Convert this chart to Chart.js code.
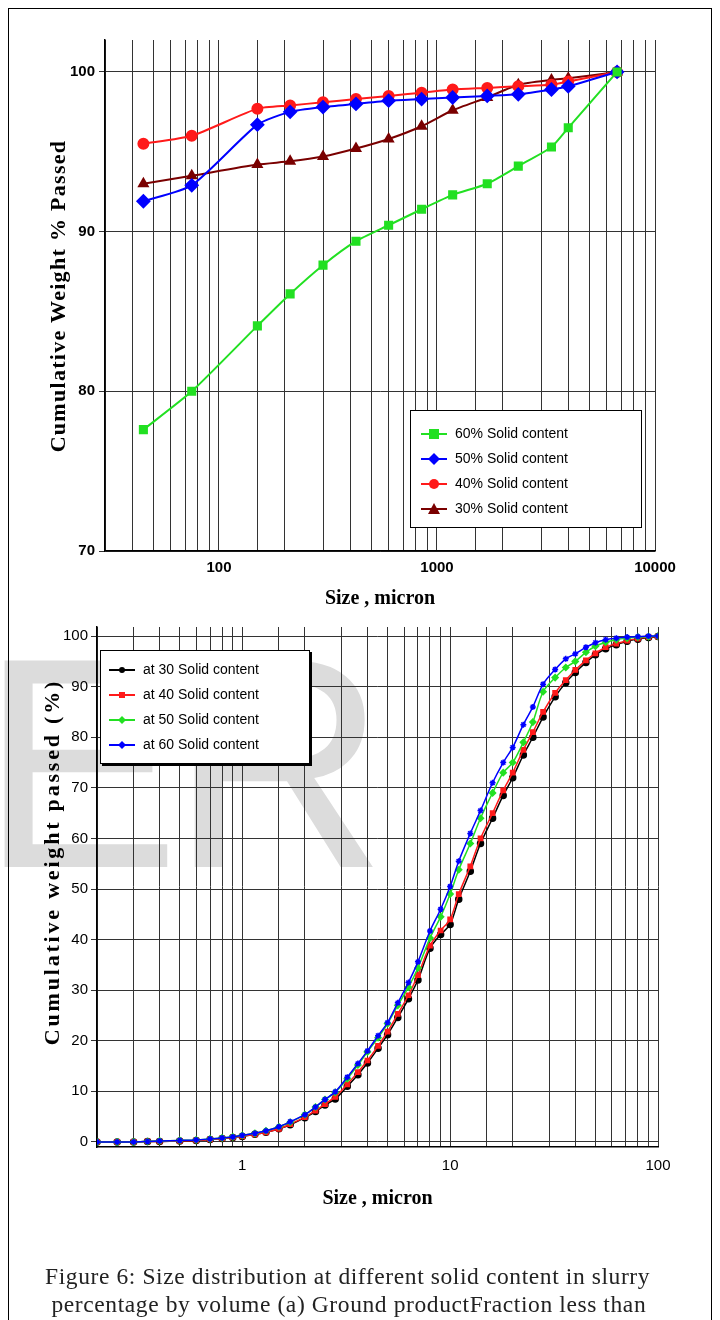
<!DOCTYPE html>
<html><head><meta charset="utf-8">
<script src="https://cdn.jsdelivr.net/npm/chart.js@4.4.1/dist/chart.umd.min.js"></script>
<style>
body{margin:0;background:#fff;width:720px;height:1320px;position:relative;overflow:hidden;font-family:"Liberation Sans",Arial,sans-serif}
#frame{position:absolute;left:8px;top:8px;width:702px;height:1340px;border:1.5px solid #000;overflow:hidden}
canvas{position:absolute;left:0}
#wm{position:absolute;left:-20px;top:590px;font-size:300px;color:#dcdcdc;font-family:"Liberation Sans",Arial,sans-serif;letter-spacing:-10px}
.leg{position:absolute;background:#fff;border:1.5px solid #000;font-size:14px;line-height:25px}
.leg div{display:flex;align-items:center;white-space:nowrap}
.leg svg{margin-right:8px}
.ytitle{position:absolute;transform:translate(-50%,-50%) rotate(-90deg);white-space:nowrap;font-family:"Liberation Serif","DejaVu Serif",serif;font-weight:bold;font-size:22px;color:#000}
#cap{position:absolute;left:45px;top:1262px;font-family:"Liberation Serif","DejaVu Serif",serif;font-size:23.5px;letter-spacing:0.6px;line-height:28px;white-space:nowrap;color:#222}
</style></head><body>
<div id="wm">ER</div>
<canvas id="c1" width="720" height="615" style="top:0"></canvas>
<canvas id="c2" width="720" height="600" style="top:615px"></canvas>
<div id="frame"></div>
<div class="ytitle" style="left:58px;top:296px;letter-spacing:1.3px">Cumulative Weight % Passed</div>
<div class="ytitle" style="left:52px;top:862px;letter-spacing:2.8px">Cumulative weight passed (%)</div>
<div class="leg" id="leg1" style="left:410px;top:410px;width:212px;padding:10px 8px 6px 10px;font-size:14px"></div>
<div class="leg" id="leg2" style="left:100px;top:650px;width:196px;padding:6px 4px 6px 8px;box-shadow:2px 2px 0 #000"></div>
<div id="cap">Figure 6: Size distribution at different solid content in slurry<br>&nbsp;percentage by volume (a) Ground productFraction less than</div>
<script>
// ---- top chart data ----
const sizesA = [45, 75, 150, 212, 300, 425, 600, 850, 1180, 1700, 2360, 3350, 4000, 6700];
const s60A = [77.6, 80.0, 84.1, 86.1, 87.9, 89.4, 90.4, 91.4, 92.3, 93.0, 94.1, 95.3, 96.5, 100];
const s50A = [91.9, 92.9, 96.7, 97.5, 97.8, 98.0, 98.2, 98.3, 98.4, 98.5, 98.6, 98.9, 99.1, 100];
const s40A = [95.5, 96.0, 97.7, 97.9, 98.1, 98.3, 98.5, 98.7, 98.9, 99.0, 99.1, 99.2, 99.4, 100];
const s30A = [93.0, 93.5, 94.2, 94.4, 94.7, 95.2, 95.8, 96.6, 97.6, 98.4, 99.2, 99.5, 99.6, 100];
const labelsA = ['60% Solid content','50% Solid content','40% Solid content','30% Solid content'];
const yTicksA = [70, 80, 90, 100];
// ---- bottom chart data ----
const sizesB = [0.2,0.25,0.3,0.35,0.4,0.5,0.6,0.7,0.8,0.9,1,1.15,1.3,1.5,1.7,2,2.25,2.5,2.8,3.2,3.6,4,4.5,5,5.6,6.3,7,8,9,10,11,12.5,14,16,18,20,22.5,25,28,32,36,40,45,50,56,63,71,80,90,100];
const b30 = [0,0,0,0.1,0.1,0.2,0.3,0.5,0.7,0.9,1.1,1.5,1.9,2.6,3.4,4.8,6.0,7.3,8.5,11,13.3,15.6,18.5,21.2,24.6,28.3,32,38.3,41,43,48,53.5,59,64,68.5,72,76.5,80,84,88,90.8,92.8,94.8,96.3,97.5,98.3,99,99.4,99.7,99.9];
const b40 = [0,0,0,0.1,0.1,0.2,0.3,0.5,0.7,0.9,1.1,1.5,1.9,2.6,3.5,4.9,6.2,7.5,8.9,11.4,13.8,16.1,19,21.8,25.3,29,33,38.8,41.8,44,49,54.5,60,65,69.5,73,77.5,81,85,88.8,91.3,93.3,95.2,96.6,97.8,98.5,99.1,99.5,99.8,99.9];
const b50 = [0,0,0,0.1,0.2,0.3,0.4,0.6,0.8,1.0,1.3,1.7,2.2,3.0,3.9,5.4,6.9,8.4,9.8,12.5,15.2,17.8,20.6,23.4,27,30.6,34.4,40.3,44.5,49,53.8,59,64,69,73,75,79,83,89,91.8,93.8,95,96.8,98,98.8,99.3,99.6,99.8,99.9,100];
const b60 = [0,0,0,0.1,0.2,0.3,0.4,0.6,0.8,1.0,1.3,1.7,2.2,3.0,4.0,5.4,6.9,8.4,9.9,12.8,15.5,18,21,23.6,27.5,31.5,35.6,41.7,46,50.5,55.5,61,65.5,71,75,78,82.5,86,90.5,93.4,95.5,96.5,97.8,98.7,99.3,99.6,99.8,99.9,100,100];
const labelsB = ['at 30 Solid content','at 40 Solid content','at 50 Solid content','at 60 Solid content'];
const yTicksB = [0,10,20,30,40,50,60,70,80,90,100];

const isDecade = v => Math.abs(Math.log10(v) - Math.round(Math.log10(v))) < 1e-9;
const pts = (xs, ys) => xs.map((x, i) => ({x, y: ys[i]}));

// ---- chart A ----
const colA = ['#22e022','#0000ff','#ff1a1a','#7a0000'];
const styA = ['rect','rectRot','circle','triangle'];
const dataA = [s60A, s50A, s40A, s30A];
new Chart(document.getElementById('c1'), {
  type: 'line',
  data: {datasets: dataA.map((d, i) => ({label: labelsA[i], data: pts(sizesA, d), borderColor: colA[i], backgroundColor: colA[i],
    pointStyle: styA[i], pointRadius: styA[i]==='rectRot'?6:5, borderWidth: 2, tension: 0.2}))},
  options: {
    responsive: false, animation: false,
    layout: {padding: {top: 40, right: 65, left: 0, bottom: 0}},
    plugins: {legend: {display: false}, tooltip: {enabled: false}},
    scales: {
      x: {type: 'logarithmic', min: 30, max: 10000,
        grid: {color: '#333', lineWidth: 1, drawTicks: false},
        border: {color: '#000', width: 1.5},
        ticks: {autoSkip: false, color: '#000', font: {size: 15, weight: 'bold', family: 'Liberation Sans'}, padding: 8, maxRotation: 0,
          callback: v => isDecade(v) ? String(v) : ''},
        title: {display: true, text: 'Size , micron', color: '#000', font: {size: 20, weight: 'bold', family: 'Liberation Serif'}, padding: {top: 0}},
        afterFit: s => { s.height = 64; }},
      y: {min: 70, max: 102,
        afterBuildTicks: s => { s.ticks = yTicksA.map(v => ({value: v})); },
        grid: {color: '#333', lineWidth: 1, tickLength: 6},
        border: {color: '#000', width: 1.5},
        ticks: {color: '#000', font: {size: 15, weight: 'bold', family: 'Liberation Sans'}, padding: 4},
        afterFit: s => { s.width = 105; }}
    }
  }
});

// ---- chart B ----
const colB = ['#000000','#ff1a1a','#22e022','#0000ff'];
const styB = ['circle','rect','rectRot','star'];
const dataB = [b30, b40, b50, b60];
new Chart(document.getElementById('c2'), {
  type: 'line',
  data: {datasets: dataB.map((d, i) => ({label: labelsB[i], data: pts(sizesB, d), borderColor: colB[i], backgroundColor: colB[i],
    pointStyle: styB[i], pointRadius: 3, borderWidth: 1.5, tension: 0.3, order: 4 - i}))},
  options: {
    responsive: false, animation: false,
    layout: {padding: {top: 12, right: 62, left: 0, bottom: 0}},
    plugins: {legend: {display: false}, tooltip: {enabled: false}},
    scales: {
      x: {type: 'logarithmic', min: 0.2, max: 100,
        grid: {color: '#333', lineWidth: 1, drawTicks: false},
        border: {color: '#000', width: 1.5},
        ticks: {autoSkip: false, color: '#000', font: {size: 15, family: 'Liberation Sans'}, padding: 10, maxRotation: 0,
          callback: v => isDecade(v) ? String(v) : ''},
        title: {display: true, text: 'Size , micron', color: '#000', font: {size: 20, weight: 'bold', family: 'Liberation Serif'}, padding: {top: 2}},
        afterFit: s => { s.height = 68; }},
      y: {min: -1, max: 101.8,
        afterBuildTicks: s => { s.ticks = yTicksB.map(v => ({value: v})); },
        grid: {color: '#333', lineWidth: 1, tickLength: 6},
        border: {color: '#000', width: 1.5},
        ticks: {color: '#000', font: {size: 15, family: 'Liberation Sans'}, padding: 3},
        afterFit: s => { s.width = 97; }}
    }
  }
});

// ---- HTML legends ----
function marker(style, color, size) {
  const c = 13;
  let m = '';
  if (style === 'rect') m = `<rect x="${c-size}" y="${9-size}" width="${2*size}" height="${2*size}" fill="${color}"/>`;
  else if (style === 'rectRot') m = `<polygon points="${c},${9-size-1} ${c+size+1},9 ${c},${9+size+1} ${c-size-1},9" fill="${color}"/>`;
  else if (style === 'circle') m = `<circle cx="${c}" cy="9" r="${size}" fill="${color}"/>`;
  else if (style === 'triangle') m = `<polygon points="${c},${9-size-1} ${c+size+1},${9+size} ${c-size-1},${9+size}" fill="${color}"/>`;
  else if (style === 'star') m = `<polygon points="${c},${9-size-1} ${c+2},7 ${c+size+1},9 ${c+2},11 ${c},${9+size+1} ${c-2},11 ${c-size-1},9 ${c-2},7" fill="${color}"/>`;
  return `<svg width="26" height="18"><line x1="0" y1="9" x2="26" y2="9" stroke="${color}" stroke-width="2"/>${m}</svg>`;
}
document.getElementById('leg1').innerHTML = labelsA.map((l, i) => `<div>${marker(styA[i], colA[i], 5)}${l}</div>`).join('');
document.getElementById('leg2').innerHTML = labelsB.map((l, i) => `<div>${marker(styB[i], colB[i], 3)}${l}</div>`).join('');
</script>
</body></html>
